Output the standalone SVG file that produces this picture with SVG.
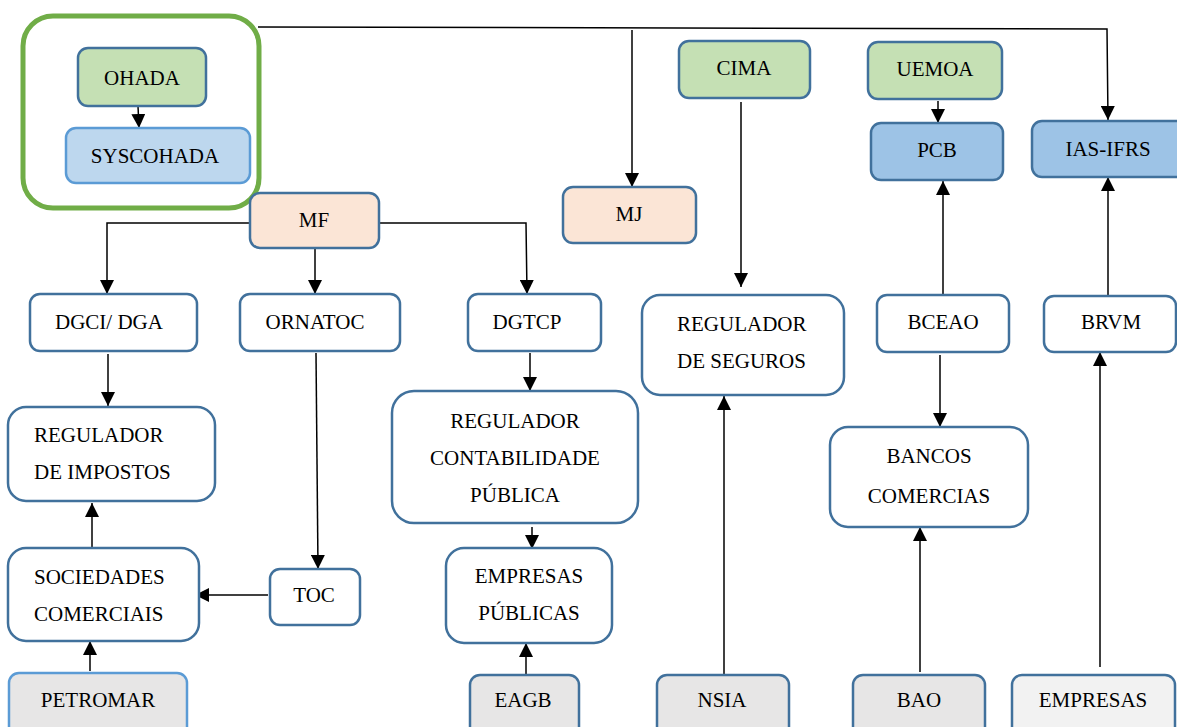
<svg xmlns="http://www.w3.org/2000/svg" width="1177" height="727" viewBox="0 0 1177 727" font-family="'Liberation Serif', 'Times New Roman', 'DejaVu Serif', serif">
<style>
.n{stroke:#41719c;stroke-width:2.5;fill:#fff}
.g{fill:#c5e0b4}
.b{fill:#9dc3e6}
.lb{fill:#bdd7ee;stroke:#5b9bd5}
.o{fill:#fbe5d6}
.gr{fill:#e7e6e6}
.lg{fill:#f2f2f2}
text{font-family:'Liberation Serif','Times New Roman','DejaVu Serif',serif;font-size:21px;fill:#000}
.c{text-anchor:middle}
.e{stroke:#000;stroke-width:1.5;fill:none}
</style>
<defs>
<marker id="a" markerUnits="userSpaceOnUse" markerWidth="14" markerHeight="14" viewBox="0 0 14 14" refX="14" refY="7" orient="auto">
<path d="M0,0 L14,7 L0,14 Z" fill="#000"/>
</marker>
</defs>
<rect width="1177" height="727" fill="#fff"/>
<g id="connectors">
<path class="e" d="M258,27 L1107,29 L1108,120" marker-end="url(#a)"/>
<path class="e" d="M632,30 L632,187" marker-end="url(#a)"/>
<path class="e" d="M138,106 L139,128" marker-end="url(#a)"/>
<path class="e" d="M741,102 L741,287" marker-end="url(#a)"/>
<path class="e" d="M938,101 L938,123" marker-end="url(#a)"/>
<path class="e" d="M943,295 L943,181" marker-end="url(#a)"/>
<path class="e" d="M1108,295 L1108,177" marker-end="url(#a)"/>
<path class="e" d="M940,355 L940,427" marker-end="url(#a)"/>
<path class="e" d="M920,672 L920,527" marker-end="url(#a)"/>
<path class="e" d="M1100,667 L1100,352" marker-end="url(#a)"/>
<path class="e" d="M250,223 L107,223 L107,294" marker-end="url(#a)"/>
<path class="e" d="M379,223 L526,223 L527,294" marker-end="url(#a)"/>
<path class="e" d="M315,248 L315,294" marker-end="url(#a)"/>
<path class="e" d="M108,354 L108,406" marker-end="url(#a)"/>
<path class="e" d="M92,548 L92,503" marker-end="url(#a)"/>
<path class="e" d="M316,353 L318,569" marker-end="url(#a)"/>
<path class="e" d="M268,595 L195,595" marker-end="url(#a)"/>
<path class="e" d="M90,671 L90,641" marker-end="url(#a)"/>
<path class="e" d="M530,353 L530,391" marker-end="url(#a)"/>
<path class="e" d="M532,527 L532,549" marker-end="url(#a)"/>
<path class="e" d="M526,675 L526,643" marker-end="url(#a)"/>
<path class="e" d="M724,675 L724,396" marker-end="url(#a)"/>
</g>
<g id="ohada-group"><rect x="23" y="16" width="236" height="192" rx="30" fill="none" stroke="#70ad47" stroke-width="5"/></g>
<g id="ohada"><rect class="n g" x="78" y="48" width="128" height="58" rx="10"/><text class="c" x="142" y="85">OHADA</text></g>
<g id="syscohada"><rect class="n lb" x="66" y="128" width="184" height="55" rx="10"/><text class="c" x="155" y="163">SYSCOHADA</text></g>
<g id="mf"><rect class="n o" x="250" y="193" width="129" height="55" rx="10"/><text class="c" x="314" y="227">MF</text></g>
<g id="mj"><rect class="n o" x="563" y="187" width="133" height="56" rx="10"/><text class="c" x="629" y="221">MJ</text></g>
<g id="cima"><rect class="n g" x="679" y="41" width="131" height="57" rx="10"/><text class="c" x="744" y="75">CIMA</text></g>
<g id="uemoa"><rect class="n g" x="868" y="42" width="134" height="57" rx="10"/><text class="c" x="935" y="76">UEMOA</text></g>
<g id="pcb"><rect class="n b" x="871" y="123" width="132" height="57" rx="10"/><text class="c" x="937" y="157">PCB</text></g>
<g id="ias-ifrs"><rect class="n b" x="1032" y="121" width="160" height="56" rx="10"/><text class="c" x="1108" y="156">IAS-IFRS</text></g>
<g id="dgci"><rect class="n" x="30" y="294" width="167" height="57" rx="10"/><text class="c" x="109" y="329">DGCI/ DGA</text></g>
<g id="ornatoc"><rect class="n" x="240" y="294" width="160" height="57" rx="10"/><text class="c" x="315" y="329">ORNATOC</text></g>
<g id="dgtcp"><rect class="n" x="468" y="294" width="133" height="57" rx="10"/><text class="c" x="527" y="329">DGTCP</text></g>
<g id="regulador-seguros"><rect class="n" x="642" y="295" width="202" height="100" rx="18"/><text x="677" y="331">REGULADOR</text><text x="677" y="368">DE SEGUROS</text></g>
<g id="bceao"><rect class="n" x="877" y="295" width="132" height="57" rx="10"/><text class="c" x="943" y="329">BCEAO</text></g>
<g id="brvm"><rect class="n" x="1044" y="296" width="132" height="56" rx="10"/><text class="c" x="1111" y="329">BRVM</text></g>
<g id="regulador-impostos"><rect class="n" x="8" y="407" width="207" height="94" rx="18"/><text x="34" y="442">REGULADOR</text><text x="34" y="479">DE IMPOSTOS</text></g>
<g id="regulador-contabilidade"><rect class="n" x="392" y="391" width="246" height="132" rx="22"/><text class="c" x="515" y="428">REGULADOR</text><text class="c" x="515" y="465">CONTABILIDADE</text><text class="c" x="515" y="502">PÚBLICA</text></g>
<g id="bancos"><rect class="n" x="830" y="427" width="198" height="100" rx="18"/><text class="c" x="929" y="463">BANCOS</text><text class="c" x="929" y="503">COMERCIAS</text></g>
<g id="sociedades"><rect class="n" x="8" y="548" width="191" height="93" rx="18"/><text x="34" y="584">SOCIEDADES</text><text x="34" y="621">COMERCIAIS</text></g>
<g id="toc"><rect class="n" x="270" y="569" width="90" height="56" rx="10"/><text class="c" x="314" y="602">TOC</text></g>
<g id="empresas-publicas"><rect class="n" x="446" y="548" width="166" height="95" rx="18"/><text class="c" x="529" y="583">EMPRESAS</text><text class="c" x="529" y="620">PÚBLICAS</text></g>
<g id="petromar"><rect class="n gr" x="9" y="673" width="178" height="66" rx="10" style="stroke:#5b9bd5"/><text class="c" x="98" y="707">PETROMAR</text></g>
<g id="eagb"><rect class="n gr" x="470" y="675" width="109" height="64" rx="10"/><text class="c" x="523" y="707">EAGB</text></g>
<g id="nsia"><rect class="n gr" x="657" y="675" width="132" height="64" rx="10"/><text class="c" x="722" y="707">NSIA</text></g>
<g id="bao"><rect class="n gr" x="853" y="675" width="132" height="64" rx="10"/><text class="c" x="919" y="707">BAO</text></g>
<g id="empresas"><rect class="n lg" x="1012" y="675" width="163" height="64" rx="10"/><text class="c" x="1093" y="707">EMPRESAS</text></g>
</svg>
